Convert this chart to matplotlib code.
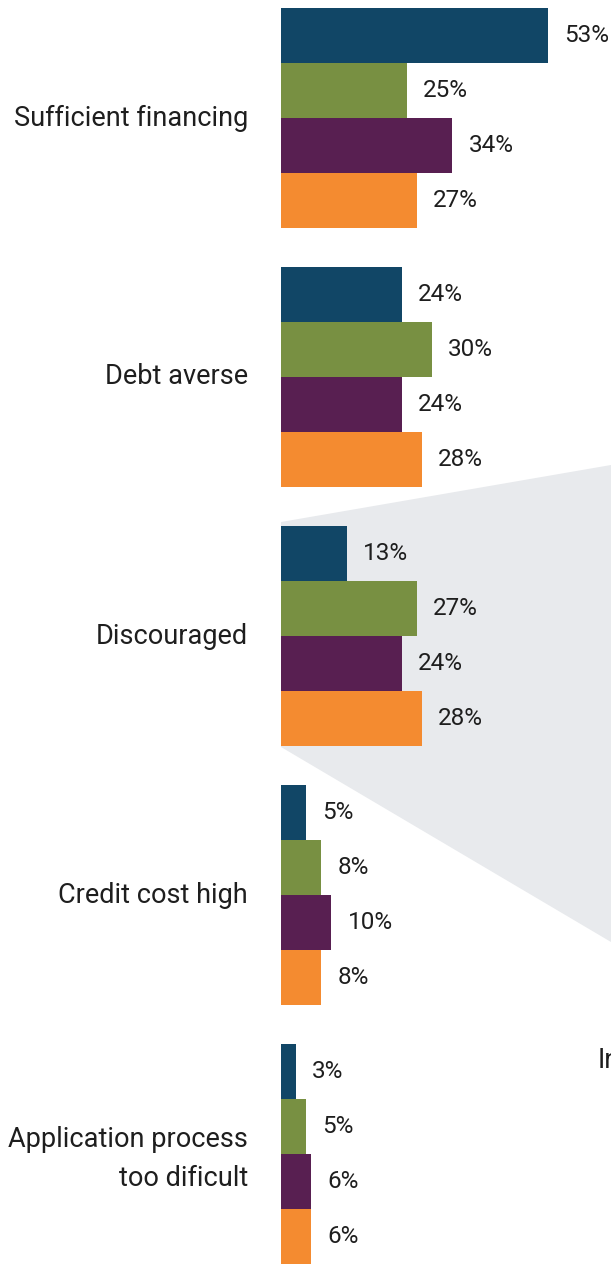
import matplotlib.pyplot as plt
from matplotlib.patches import Polygon
import numpy as np

plt.rcParams['font.family'] = ['Roboto', 'DejaVu Sans']

# 항목별 응답 비율 (%)
categories = ["Sufficient financing", "Debt averse", "Discouraged",
              "Credit cost high", "Application process\ntoo dificult"]
series_a = [53, 24, 13, 5, 3]
series_b = [25, 30, 27, 8, 5]
series_c = [34, 24, 24, 10, 6]
series_d = [27, 28, 28, 8, 6]

colors = ["#114666", "#789042", "#581f51", "#f48b30"]
text_color = "#1e1e1e"

fig = plt.figure(figsize=(6.11, 12.64), dpi=100)

# 가운데 항목을 강조하는 회색 배경 (그림 좌표, 픽셀 기준)
W, H = 611, 1264
shade = Polygon([(281 / W, 1 - 522 / H), (1.0, 1 - 465 / H),
                 (1.0, 1 - 942 / H), (281 / W, 1 - 747 / H)],
                closed=True, transform=fig.transFigure,
                facecolor="#e8eaed", edgecolor="none", zorder=-1)
fig.patches.append(shade)

ax = fig.add_axes([281 / W, 0, 1 - 281 / W, 1])
ax.patch.set_alpha(0)

px_per_unit = 5.04
group_px = 259
bar_h = 55 / group_px
ax.set_xlim(0, (W - 281) / px_per_unit)
ax.set_ylim((H - 118) / group_px, -118 / group_px)

y = np.arange(len(categories))
all_series = [series_a, series_b, series_c, series_d]
for k, (vals, c) in enumerate(zip(all_series, colors)):
    ypos = y + (k - 1.5) * bar_h
    ax.barh(ypos, vals, height=bar_h, color=c, edgecolor="none", zorder=2)
    for yy, v in zip(ypos, vals):
        ax.text(v + 3.2, yy, f"{v}%", ha="left", va="center",
                fontsize=17.5, color=text_color, clip_on=False)

for yy, name in zip(y, categories):
    # 두 줄짜리 라벨은 조금 아래로
    dy = 5 / group_px if "\n" in name else 0
    ax.text(-33 / px_per_unit, yy + dy, name, ha="right", va="center",
            fontsize=19.5, color=text_color, linespacing=1.55, clip_on=False)

ax.axis("off")

# 오른쪽으로 잘린 설명 텍스트
fig.text(598 / W, 1 - 1061 / H, "In", ha="left", va="center",
         fontsize=19.5, color=text_color)

fig.savefig("out.png", dpi=100)
